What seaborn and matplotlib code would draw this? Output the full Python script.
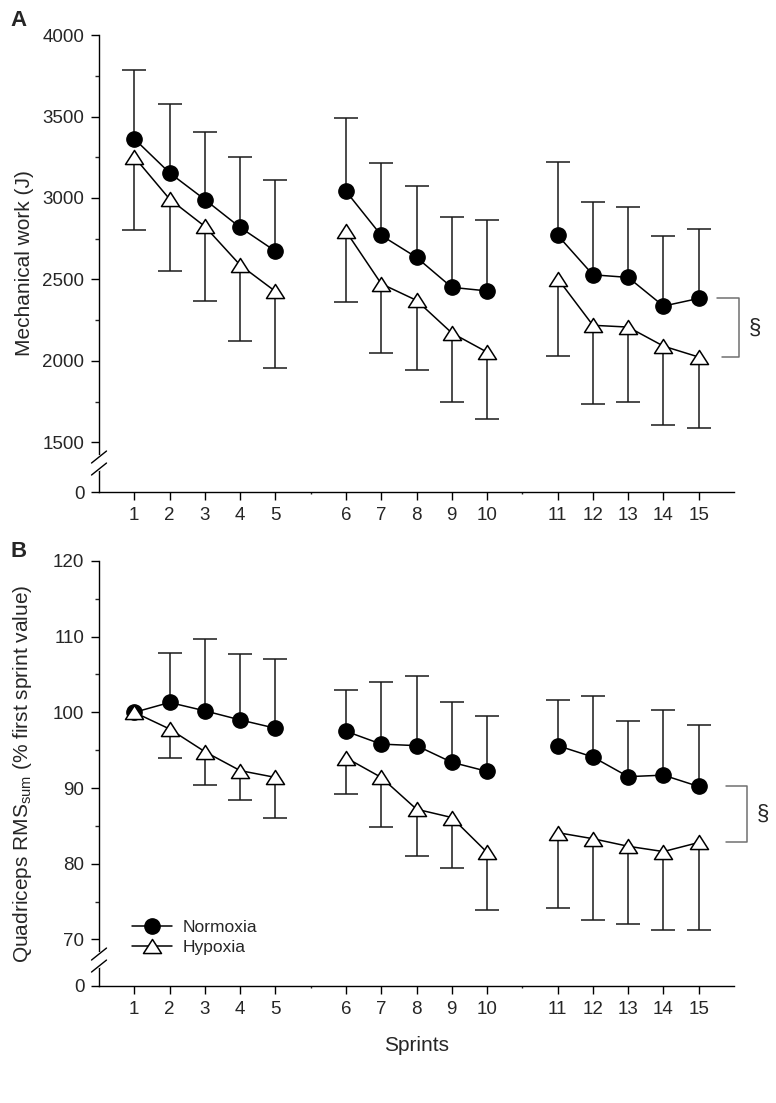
import numpy as np
import pandas as pd
import matplotlib
matplotlib.use("Agg")
import matplotlib.pyplot as plt
from matplotlib.ticker import FixedLocator, NullFormatter
import seaborn as sns

# datos
sprints = list(range(1, 16))

norm_work = [3363, 3154, 2990, 2819, 2673, 3041, 2770, 2635, 2451, 2429, 2771, 2528, 2512, 2336, 2383]
norm_work_sd = [424, 421, 417, 435, 437, 449, 444, 439, 433, 436, 452, 447, 435, 431, 429]
hyp_work = [3251, 2993, 2825, 2588, 2426, 2795, 2473, 2371, 2171, 2053, 2505, 2218, 2207, 2090, 2023]
hyp_work_sd = [446, 440, 456, 466, 471, 432, 423, 427, 421, 409, 477, 483, 462, 482, 435]

norm_rms = [100, 101.3, 100.2, 99.0, 97.9, 97.5, 95.8, 95.6, 93.4, 92.2, 95.6, 94.1, 91.5, 91.7, 90.2]
norm_rms_sd = [0, 6.5, 9.5, 8.7, 9.1, 5.4, 8.2, 9.2, 7.9, 7.3, 6.0, 8.0, 7.4, 8.6, 8.1]
hyp_rms = [100, 97.8, 94.8, 92.3, 91.4, 94.0, 91.4, 87.2, 86.1, 81.5, 84.1, 83.3, 82.3, 81.6, 82.8]
hyp_rms_sd = [0, 3.9, 4.4, 3.9, 5.4, 4.8, 6.5, 6.2, 6.7, 7.6, 9.9, 10.7, 10.3, 10.4, 11.6]

sns.set_style("ticks")
plt.rcParams["font.family"] = ["Liberation Sans", "DejaVu Sans"]
plt.rcParams["mathtext.fontset"] = "custom"
plt.rcParams["mathtext.rm"] = "Liberation Sans"
plt.rcParams["axes.edgecolor"] = "black"
plt.rcParams["axes.linewidth"] = 1.0

# triangulo algo mas ancho que alto
tri = matplotlib.path.Path([(0, 0.78), (-1, -0.78), (1, -0.78), (0, 0.78)],
                           [1, 2, 2, 79])

bloque = [(s - 1) // 5 for s in sprints]
pos = [s + b for s, b in zip(sprints, bloque)]


def escala_rota(corte, k):
    def fwd(y):
        y = np.asarray(y, dtype=float)
        return np.where(y >= corte, y, corte - (corte - y) * k)

    def inv(y):
        y = np.asarray(y, dtype=float)
        return np.where(y >= corte, y, corte - (corte - y) / k)
    return fwd, inv


def dibujar_corte(ax, yf):
    bb = ax.get_window_extent()
    dx = 7.5 / bb.width
    dy = 6.0 / bb.height
    gap = 6.0 / bb.height
    ax.plot([0, 0], [yf - gap, yf + gap], color="white", lw=3,
            transform=ax.transAxes, clip_on=False, zorder=6)
    for off in (-gap, gap):
        ax.plot([-dx, dx], [yf + off - dy, yf + off + dy], color="black", lw=1,
                transform=ax.transAxes, clip_on=False, zorder=7)


def barras(ax, x, y, sd, hacia_arriba):
    # barra de error de un solo lado, sin tope en el centro del marcador
    sd = np.asarray(sd, dtype=float)
    m = sd > 0
    cero = np.zeros(m.sum())
    yerr = [cero, sd[m]] if hacia_arriba else [sd[m], cero]
    _, caps, _ = ax.errorbar(np.asarray(x)[m], np.asarray(y, dtype=float)[m],
                             yerr=yerr, fmt="none", ecolor="#1a1a1a",
                             elinewidth=1.1, capsize=8.5, capthick=1.1, zorder=1)
    # caps[0] = extremo inferior, caps[1] = extremo superior
    (caps[0] if hacia_arriba else caps[1]).remove()


def panel(ax, norm, norm_sd, hyp, hyp_sd, corte, k, mayores, menores,
          ylabel, brk_x, sym_x):
    ax.set_yscale("function", functions=escala_rota(corte, k))
    df_n = pd.DataFrame({"pos": pos, "val": norm, "bloque": bloque})
    df_h = pd.DataFrame({"pos": pos, "val": hyp, "bloque": bloque})

    barras(ax, pos, norm, norm_sd, True)
    barras(ax, pos, hyp, hyp_sd, False)

    sns.lineplot(data=df_n, x="pos", y="val", units="bloque", estimator=None,
                 errorbar=None, color="black", marker="o", markersize=11,
                 markerfacecolor="black", markeredgecolor="black",
                 markeredgewidth=1, linewidth=1.1, label="Normoxia",
                 legend=False, ax=ax, zorder=3)
    sns.lineplot(data=df_h, x="pos", y="val", units="bloque", estimator=None,
                 errorbar=None, color="black", marker=tri, markersize=13,
                 markerfacecolor="white", markeredgecolor="black",
                 markeredgewidth=1.1, linewidth=1.1, label="Hypoxia",
                 legend=False, ax=ax, zorder=3)

    ax.set_xlim(0, 18)
    ax.set_ylim(0, mayores[-1])
    ax.set_xticks(pos)
    ax.set_xticklabels([str(s) for s in sprints])
    ax.xaxis.set_minor_locator(FixedLocator([6, 12]))
    ax.yaxis.set_major_locator(FixedLocator(mayores))
    ax.yaxis.set_minor_locator(FixedLocator(menores))
    ax.yaxis.set_minor_formatter(NullFormatter())
    ax.set_yticklabels([str(int(v)) for v in mayores])
    ax.tick_params(axis="both", which="major", direction="out", length=5.5,
                   width=1, labelsize=13.5, pad=5, color="black")
    ax.tick_params(axis="y", which="minor", direction="out", length=3, width=1)
    ax.tick_params(axis="x", which="minor", direction="out", length=1.2, width=1)
    sns.despine(ax=ax)
    ax.set_xlabel("")
    ax.set_ylabel(ylabel, fontsize=15)
    ax.yaxis.set_label_coords(-0.103, 0.5)

    # corchete con el simbolo de significacion
    y_top = norm[-1]
    y_bot = hyp[-1]
    ax.plot([brk_x[0], brk_x[2], brk_x[2], brk_x[1]], [y_top, y_top, y_bot, y_bot],
            color="#707070", lw=1.1, clip_on=False)
    ax.text(sym_x, (y_top + y_bot) / 2, "§", fontsize=16, ha="center",
            va="center", clip_on=False)


fig = plt.figure(figsize=(7.76, 11.03), dpi=100)
ax_a = fig.add_axes([0.1276, 0.5539, 0.8183, 0.4143])
ax_b = fig.add_axes([0.1276, 0.1061, 0.8183, 0.3853])

panel(ax_a, norm_work, norm_work_sd, hyp_work, hyp_work_sd, 1500, 0.204,
      [0, 1500, 2000, 2500, 3000, 3500, 4000],
      [1750, 2250, 2750, 3250, 3750],
      "Mechanical work (J)", (17.53, 17.65, 18.13), 18.58)
panel(ax_b, norm_rms, norm_rms_sd, hyp_rms, hyp_rms_sd, 70, 0.088,
      [0, 70, 80, 90, 100, 110, 120],
      [75, 85, 95, 105, 115],
      r"Quadriceps RMS$_{\mathrm{sum}}$ (% first sprint value)",
      (17.78, 17.78, 18.37), 18.83)

ax_b.set_xlabel("Sprints", fontsize=15, labelpad=13)

dibujar_corte(ax_a, 0.0635)
dibujar_corte(ax_b, 0.061)

h, l = ax_b.get_legend_handles_labels()
unicos = dict(zip(l, h))
ax_b.legend([unicos["Normoxia"], unicos["Hypoxia"]], ["Normoxia", "Hypoxia"],
            loc="lower left", bbox_to_anchor=(0.052, 0.072), frameon=False,
            fontsize=12.5, handlelength=2.3, labelspacing=0.3, borderpad=0,
            borderaxespad=0, handletextpad=0.6)

fig.text(10 / 776, 1 - 26 / 1103, "A", fontsize=16, fontweight="bold")
fig.text(10 / 776, 1 - 557 / 1103, "B", fontsize=16, fontweight="bold")

fig.savefig("out.png", dpi=100)
